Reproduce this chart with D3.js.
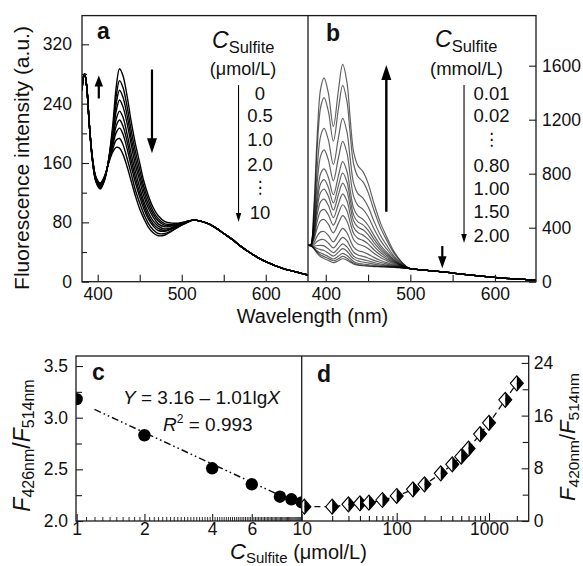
<!DOCTYPE html>
<html><head><meta charset="utf-8">
<script src="https://cdn.jsdelivr.net/npm/d3@7"></script>
<style>body{margin:0;background:#fff}svg{display:block}</style>
</head><body>
<svg id="chart" width="583" height="566"></svg>
<script>
// ---------- DATA ----------
// Panel a: fluorescence spectra, C_sulfite 0 ... 10 umol/L
const headWlA = [381.3, 383, 384.5, 387, 390];
const headA   = [258, 276, 280, 262, 212];
const wlA = [394, 398, 403, 408, 413, 418, 422, 426, 430, 435, 440, 445, 450, 455, 460, 466, 472, 480, 488, 496, 505, 514];
const curvesA = [
  [160,134,125,136,165,212,262,287,278,250,215,185,160,135,117,100,89,81,79,79,81,83],
  [161,135,126,137,164,206,250,271,262,236,203,175,151,128,111,95,85,78,77,78,81,83],
  [161,136,127,138,164,202,240,258,249,224,193,166,143,122,105,91,82,76,76,78,80,83],
  [162,137,128,138,163,197,230,245,236,213,184,157,136,115,100,87,78,74,75,77,80,83],
  [163,138,129,139,162,192,219,230,222,199,172,148,127,108,94,82,75,71,73,77,80,83],
  [163,139,130,140,162,188,210,218,210,189,163,140,120,103,89,78,72,69,72,76,80,83],
  [164,139,131,140,161,184,201,207,199,179,155,133,114,98,85,75,69,68,71,75,80,83],
  [164,140,132,141,161,179,191,193,185,166,145,123,106,91,79,70,65,65,69,74,79,83],
  [165,141,133,142,160,175,181,180,172,155,135,115,98,85,74,66,62,63,68,74,79,83]
];
const tailWlA = [530, 540, 550, 560, 570, 580, 590, 600, 620, 640, 650.3];
const tailA   = [79, 73, 65, 57, 48, 40, 33, 27, 18, 12, 9];
const legendA = ["0", "0.5", "1.0", "2.0", "\u22EE", "10"];

// Panel b: fluorescence spectra, C_sulfite 0.01 ... 2.00 mmol/L
const headWlB = [379.5, 382];
const headB   = [272, 268];
const wlB = [386, 390, 394, 398, 403, 409, 415, 420, 425, 429, 433, 438, 444, 450, 457, 465, 472, 480, 488, 495];
const curvesB = [
  [560,1100,1430,1510,1400,1150,1420,1610,1480,1200,960,860,815,730,580,430,333,230,160,115],
  [525,1003,1294,1364,1265,1041,1283,1454,1337,1086,870,779,739,663,529,395,308,217,154,113],
  [471,850,1080,1135,1052,868,1068,1210,1112,906,728,653,619,557,448,340,270,195,144,111],
  [433,743,932,976,904,749,918,1040,956,781,630,565,536,483,392,302,243,181,137,109],
  [400,650,801,836,774,644,786,890,818,671,543,487,462,418,343,268,219,168,131,107],
  [381,596,727,756,700,584,712,805,740,608,493,443,421,382,315,249,206,161,128,106],
  [364,550,662,686,635,531,646,730,671,553,450,405,384,349,290,232,194,154,125,106],
  [346,500,593,612,566,475,576,651,599,495,404,364,345,315,264,214,182,147,122,105],
  [328,450,522,536,496,419,505,570,525,436,357,322,306,280,237,196,169,140,119,104],
  [311,399,452,461,426,362,434,489,450,376,311,280,266,245,211,178,156,133,116,103],
  [289,340,369,372,343,295,351,395,363,307,256,231,220,204,180,157,141,125,112,102],
  [275,299,312,311,287,250,293,329,304,259,218,198,188,176,158,142,131,120,109,101],
  [264,268,269,265,244,215,250,280,258,222,189,172,164,155,142,131,123,115,107,101],
  [256,246,238,231,213,190,219,245,226,196,169,154,146,139,130,123,118,112,106,100],
  [250,228,212,202,186,168,190,210,194,172,150,137,131,126,120,116,113,110,105,100],
  [246,218,198,186,172,155,170,187,173,155,138,127,122,118,114,112,110,107,104,100],
  [245,210,185,172,158,142,155,170,160,145,130,122,118,115,112,110,108,106,103,100]
];
const tailWlB = [500, 510, 520, 535, 550, 570, 590, 600, 620, 640, 648.6];
const tailB   = [97, 90, 84, 75, 64, 50, 37, 32, 22, 15, 12];
const legendB = ["0.01", "0.02", "\u22EE", "0.80", "1.00", "1.50", "2.00"];

// Panel c: F426/F514 vs C (umol/L)
const cX = [1, 2, 4, 6, 8, 9, 10];
const cY = [3.18, 2.83, 2.51, 2.355, 2.235, 2.21, 2.18];
const cFitX = [1.2, 10];
const cFitY = [3.08, 2.15];

// Panel d: F420/F514 vs C (umol/L)
const dX = [10, 20, 30, 40, 50, 70, 100, 150, 200, 300, 400, 500, 600, 800, 1000, 1500, 2000];
const dY = [2.17, 2.17, 2.53, 2.69, 2.78, 3.19, 3.80, 4.81, 5.57, 7.24, 8.6, 9.76, 11.0, 13.2, 14.9, 18.4, 20.9];

// Tick labels
const ticksYA = [0, 80, 160, 240, 320];
const ticksYB = [0, 400, 800, 1200, 1600];
const ticksWl = [400, 500, 600];
const ticksYC = [2.0, 2.5, 3.0, 3.5];
const ticksXC = [1, 2, 4, 6, 10];
const ticksXD = [100, 1000];
const ticksYD = [0, 8, 16, 24];

// ---------- DRAW ----------
const FONT = '"Liberation Sans", Arial, Helvetica, sans-serif';
const svg = d3.select("#chart");
svg.append("rect").attr("width", 583).attr("height", 566).attr("fill", "#fff");

const xA = d3.scaleLinear().domain([381.3, 650.3]).range([82, 308]);
const yA = d3.scaleLinear().domain([0, 358.7]).range([281.7, 15.6]);
const xB = d3.scaleLinear().domain([379, 648.6]).range([308, 536]);
const yB = d3.scaleLinear().domain([0, 1971]).range([281.7, 15.6]);
const xC = d3.scaleLog().domain([0.993, 10]).range([76, 301.7]);
const yC = d3.scaleLinear().domain([2.0, 3.597]).range([521, 356]);
const xD = d3.scaleLog().domain([9.35, 2690]).range([301.7, 528.7]);
const yD = d3.scaleLinear().domain([0, 25.05]).range([521, 356]);

const defs = svg.append("defs");
function clip(id, x0, y0, x1, y1) {
  defs.append("clipPath").attr("id", id).append("rect")
    .attr("x", x0).attr("y", y0).attr("width", x1 - x0).attr("height", y1 - y0);
}
clip("ca", 82, 15.6, 308, 281.7);
clip("cb", 308, 15.6, 536, 281.7);
clip("cc", 76, 356, 301.7, 521);
clip("cd", 301.7, 356, 528.7, 521);

function styleAxis(g, fs) {
  g.select(".domain").remove();
  g.selectAll("line").attr("stroke", "#1a1a1a").attr("stroke-width", 1.1);
  g.selectAll("text").attr("font-family", FONT).attr("font-size", fs || 17.5).attr("fill", "#111");
}

// ----- Panel a -----
const lineA = d3.line().x(d => xA(d[0])).y(d => yA(d[1])).curve(d3.curveCatmullRom.alpha(0.5));
const pa = svg.append("g").attr("clip-path", "url(#ca)");
curvesA.forEach(vals => {
  const pts = headWlA.map((w, i) => [w, headA[i]])
    .concat(wlA.map((w, i) => [w, vals[i]]))
    .concat(tailWlA.map((w, i) => [w, tailA[i]]));
  pa.append("path").attr("d", lineA(pts)).attr("fill", "none")
    .attr("stroke", "#000").attr("stroke-width", 1.4);
});

// ----- Panel b -----
const lineB = d3.line().x(d => xB(d[0])).y(d => yB(d[1])).curve(d3.curveCatmullRom.alpha(0.5));
const pb = svg.append("g").attr("clip-path", "url(#cb)");
curvesB.forEach(vals => {
  const pts = headWlB.map((w, i) => [w, headB[i]])
    .concat(wlB.map((w, i) => [w, vals[i]]))
    .concat(tailWlB.map((w, i) => [w, tailB[i]]));
  pb.append("path").attr("d", lineB(pts)).attr("fill", "none")
    .attr("stroke", "#000").attr("stroke-opacity", 0.62).attr("stroke-width", 1.2);
});

// axes top
let g;
g = svg.append("g").attr("transform", "translate(82,0)")
  .call(d3.axisLeft(yA).tickValues(ticksYA).tickSize(-7).tickPadding(10)); styleAxis(g);
g = svg.append("g").attr("transform", "translate(82,0)")
  .call(d3.axisLeft(yA).tickValues([40, 120, 200, 280]).tickSize(-5).tickFormat("")); styleAxis(g);
g = svg.append("g").attr("transform", "translate(0,281.7)")
  .call(d3.axisBottom(xA).tickValues(ticksWl).tickSize(-7).tickPadding(6)); styleAxis(g);
g = svg.append("g").attr("transform", "translate(0,281.7)")
  .call(d3.axisBottom(xA).tickValues([450, 550]).tickSize(-7).tickFormat("")); styleAxis(g);
g = svg.append("g").attr("transform", "translate(0,281.7)")
  .call(d3.axisBottom(xB).tickValues(ticksWl).tickSize(-7).tickPadding(6)); styleAxis(g);
g = svg.append("g").attr("transform", "translate(0,281.7)")
  .call(d3.axisBottom(xB).tickValues([450, 550]).tickSize(-7).tickFormat("")); styleAxis(g);
g = svg.append("g").attr("transform", "translate(536,0)")
  .call(d3.axisRight(yB).tickValues(ticksYB).tickFormat(d3.format("d")).tickSize(-7).tickPadding(6)); styleAxis(g);

// frames top
svg.append("rect").attr("x", 82).attr("y", 15.6).attr("width", 454).attr("height", 266.1)
  .attr("fill", "none").attr("stroke", "#1a1a1a").attr("stroke-width", 1.3);
svg.append("line").attr("x1", 308).attr("x2", 308).attr("y1", 15.6).attr("y2", 281.7)
  .attr("stroke", "#1a1a1a").attr("stroke-width", 1.3);

// arrows
function arrow(x, y0, y1, lw, hl, hw) {
  const dir = Math.sign(y1 - y0);
  svg.append("line").attr("x1", x).attr("x2", x).attr("y1", y0).attr("y2", y1 - dir * hl * 0.7)
    .attr("stroke", "#000").attr("stroke-width", lw);
  svg.append("path").attr("d", `M${x},${y1} L${x - hw / 2},${y1 - dir * hl} L${x + hw / 2},${y1 - dir * hl} Z`)
    .attr("fill", "#000");
}
arrow(xA(464.6), yA(286), yA(173), 2.2, 15, 10);
arrow(xA(401.3), yA(247), yA(278), 2.2, 11, 8.5);
arrow(xA(567.6), yA(265), yA(80.5), 1.1, 9, 5.5);
arrow(xB(471.6), yB(518), yB(1605), 2.4, 15, 10);
arrow(xB(537.8), yB(264), yB(99), 2.2, 12, 8.5);
arrow(xB(563.5), yB(1457), yB(287), 1.1, 9, 5.5);

// texts
function txt(x, y, parts, opt) {
  opt = opt || {};
  const t = svg.append("text").attr("x", x).attr("y", y).attr("font-family", FONT).attr("fill", "#111")
    .attr("text-anchor", opt.anchor || "start");
  if (opt.rotate) t.attr("transform", `rotate(${opt.rotate},${x},${y})`);
  parts.forEach(p => {
    const s = t.append("tspan").text(p.t).attr("font-size", p.s);
    if (p.i) s.attr("font-style", "italic");
    if (p.b) s.attr("font-weight", "bold");
    if (p.dy) s.attr("dy", p.dy);
    if (p.f) s.attr("font-family", p.f);
  });
  return t;
}
txt(28.5, 158, [{t: "Fluorescence intensity (a.u.)", s: 21}], {anchor: "middle", rotate: -90});
txt(312.5, 323, [{t: "Wavelength  (nm)", s: 20}], {anchor: "middle"});
txt(97, 39, [{t: "a", s: 23, b: 1}]);
txt(326, 41, [{t: "b", s: 23, b: 1}]);

txt(212, 48, [{t: "C", s: 23, i: 1}, {t: "Sulfite", s: 16.5, dy: 5}]);
txt(243, 75, [{t: "(\u03BCmol/L)", s: 18}], {anchor: "middle"});
const baseA = [100, 122, 146, 171, 193, 219];
legendA.forEach((l, i) => {
  if (l === "\u22EE") txt(260, baseA[i], [{t: l, s: 17, f: "DejaVu Sans"}], {anchor: "middle"});
  else txt(260, baseA[i], [{t: l, s: 18.5}], {anchor: "middle"});
});

txt(435, 47, [{t: "C", s: 23, i: 1}, {t: "Sulfite", s: 16.5, dy: 5}]);
txt(466.5, 75, [{t: "(mmol/L)", s: 18.5}], {anchor: "middle"});
const baseB = [100, 122, 145, 172, 195, 218, 242];
legendB.forEach((l, i) => {
  if (l === "\u22EE") txt(491.5, baseB[i], [{t: l, s: 17, f: "DejaVu Sans"}], {anchor: "middle"});
  else txt(491.5, baseB[i], [{t: l, s: 18.5}], {anchor: "middle"});
});

// ----- Panel c -----
const pc = svg.append("g").attr("clip-path", "url(#cc)");
pc.append("path").attr("d", d3.line()(cFitX.map((x, i) => [xC(x), yC(cFitY[i])])))
  .attr("stroke", "#111").attr("stroke-width", 1.5).attr("fill", "none")
  .attr("stroke-dasharray", "7,3,1.6,3,1.6,3");
pc.selectAll("circle").data(cX).enter().append("circle")
  .attr("cx", (d) => xC(d)).attr("cy", (d, i) => yC(cY[i])).attr("r", 6.2).attr("fill", "#000");

// ----- Panel d -----
const pd = svg.append("g").attr("clip-path", "url(#cd)");
pd.append("path").attr("d", d3.line().curve(d3.curveMonotoneX)(dX.map((x, i) => [xD(x), yD(dY[i])])))
  .attr("stroke", "#111").attr("stroke-width", 1.3).attr("fill", "none").attr("stroke-dasharray", "6,4");
const w = 6.5, h = 7.5;
dX.forEach((x, i) => {
  const px = xD(x), py = yD(dY[i]);
  const gd = pd.append("g").attr("transform", `translate(${px},${py})`);
  gd.append("path").attr("d", `M0,${-h} L${-w},0 L0,${h} Z`).attr("fill", "#fff");
  gd.append("path").attr("d", `M0,${-h} L${w},0 L0,${h} Z`).attr("fill", "#000");
  gd.append("path").attr("d", `M0,${-h} L${w},0 L0,${h} L${-w},0 Z`).attr("fill", "none")
    .attr("stroke", "#000").attr("stroke-width", 1.1);
});

// axes bottom
g = svg.append("g").attr("transform", "translate(76,0)")
  .call(d3.axisLeft(yC).tickValues(ticksYC).tickFormat(d3.format(".1f")).tickSize(-7).tickPadding(8)); styleAxis(g);
g = svg.append("g").attr("transform", "translate(76,0)")
  .call(d3.axisLeft(yC).tickValues([2.25, 2.75, 3.25]).tickSize(-6).tickFormat("")); styleAxis(g);
g = svg.append("g").attr("transform", "translate(0,521)")
  .call(d3.axisBottom(xC).tickValues(ticksXC).tickFormat(d3.format("d")).tickSize(-7).tickPadding(2)); styleAxis(g);
const minorC = d3.range(11, 100).map(v => v / 10).filter(v => ticksXC.indexOf(v) < 0);
g = svg.append("g").attr("transform", "translate(0,521)")
  .call(d3.axisBottom(xC).tickValues(minorC).tickSize(-4).tickFormat("")); styleAxis(g);
g.selectAll("line").attr("stroke-width", 0.9);
g = svg.append("g").attr("transform", "translate(0,521)")
  .call(d3.axisBottom(xD).tickValues(ticksXD).tickFormat(d3.format("d")).tickSize(-8).tickPadding(2)); styleAxis(g);
const minorD = [20, 30, 40, 50, 60, 70, 80, 90, 200, 300, 400, 500, 600, 700, 800, 900, 2000];
g = svg.append("g").attr("transform", "translate(0,521)")
  .call(d3.axisBottom(xD).tickValues(minorD).tickSize(-5).tickFormat("")); styleAxis(g);
g = svg.append("g").attr("transform", "translate(528.7,0)")
  .call(d3.axisRight(yD).tickValues(ticksYD).tickSize(-7).tickPadding(5)); styleAxis(g);
g = svg.append("g").attr("transform", "translate(528.7,0)")
  .call(d3.axisRight(yD).tickValues([4, 12, 20]).tickSize(-6).tickFormat("")); styleAxis(g);

// frames bottom
svg.append("rect").attr("x", 76).attr("y", 356).attr("width", 452.7).attr("height", 165)
  .attr("fill", "none").attr("stroke", "#1a1a1a").attr("stroke-width", 1.3);
svg.append("line").attr("x1", 301.7).attr("x2", 301.7).attr("y1", 356).attr("y2", 521)
  .attr("stroke", "#1a1a1a").attr("stroke-width", 1.3);

txt(92, 380, [{t: "c", s: 23, b: 1}]);
txt(317, 382, [{t: "d", s: 23, b: 1}]);
txt(123, 404, [{t: "Y", s: 19, i: 1}, {t: " = 3.16 \u2013 1.01lg", s: 19}, {t: "X", s: 19, i: 1}]);
txt(163, 431, [{t: "R", s: 19, i: 1}, {t: "2", s: 12, dy: -8}, {t: " = 0.993", s: 19, dy: 8}]);

txt(29.5, 445.5, [{t: "F", s: 23, i: 1}, {t: "426nm", s: 16, dy: 4}, {t: "/", s: 23, dy: -4}, {t: "F", s: 23, i: 1}, {t: "514nm", s: 16, dy: 4}],
  {anchor: "middle", rotate: -90});
txt(575, 437, [{t: "F", s: 22, i: 1}, {t: "420nm", s: 15.5, dy: 3.5}, {t: "/", s: 22, dy: -3.5}, {t: "F", s: 22, i: 1}, {t: "514nm", s: 15.5, dy: 3.5}],
  {anchor: "middle", rotate: -90});

txt(230, 559, [{t: "C", s: 22, i: 1}, {t: "Sulfite", s: 15, dy: 3.5}, {t: "  (\u03BCmol/L)", s: 20, dy: -3.5}]);
</script>
</body></html>
